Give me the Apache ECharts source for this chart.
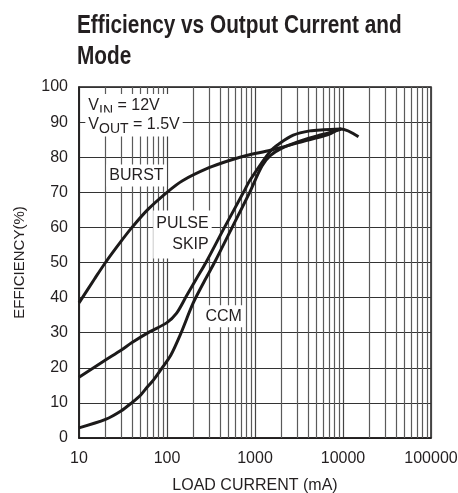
<!DOCTYPE html>
<html>
<head>
<meta charset="utf-8">
<script src="https://cdn.jsdelivr.net/npm/echarts@6/dist/echarts.min.js"></script>
<style>
    html, body { margin: 0; padding: 0; background: #fff; }
    #chart { width: 458px; height: 493px; }
</style>
</head>
<body>
<div id="chart"></div>
<script>
// load current (mA) / efficiency (%)
var burst = [[10, 38.5], [15, 45.3], [20, 50], [30, 56], [40, 60], [60, 65], [100, 70], [150, 73.3],
    [300, 77], [500, 79], [800, 80.5], [1500, 82], [3000, 84], [5000, 85.5], [7000, 86.6], [9500, 88], [15000, 85.8]];
var pulseSkip = [[10, 17.3], [20, 22.2], [30, 25], [40, 27.2], [64, 30.3], [99, 32.8], [128, 35.5], [165, 40.3],
    [215, 45.3], [277, 50], [450, 60], [740, 70], [880, 73.5],
    [1480, 81.6], [1920, 84], [2720, 86.3], [4200, 87.5], [6000, 87.8], [9500, 88]];
var ccm = [[10, 2.9], [20, 5.3], [30, 7.7], [40, 10.1], [50, 12.2], [60, 14.6], [70, 16.5], [88, 20],
    [110, 23.5], [141, 29.3], [198, 38.4], [270, 45], [355, 50.5], [550, 60], [870, 70], [1200, 77.5],
    [1500, 80.5], [2000, 82.5], [3000, 84.3], [5000, 86], [7000, 87], [9500, 88]];
// minor log grid lines
var minorTicks = [20, 30, 40, 50, 60, 70, 80, 90, 200, 300, 400, 500, 600, 700, 800, 900,
    2000, 3000, 4000, 5000, 6000, 7000, 8000, 9000, 20000, 30000, 40000, 50000, 60000, 70000, 80000, 90000];

var font = '"Liberation Sans", Arial, sans-serif';
var ink = '#1c1a1a';
var textColor = '#231f20';

function curve(name, data) {
    return {
        name: name,
        type: 'line',
        data: data,
        smooth: 0.3,
        symbol: 'none',
        z: 4,
        lineStyle: { color: ink, width: 3 }
    };
}

var subStyle = { fontFamily: font, fontSize: 14, color: textColor, padding: [10, 0, 0, 0] };

var myChart = echarts.init(document.getElementById('chart'));

var option = {
    backgroundColor: '#ffffff',
    animation: false,
    graphic: [{
        type: 'text',
        x: 77,
        y: 10,
        scaleX: 0.8,
        style: {
            text: 'Efficiency vs Output Current and\nMode',
            font: 'bold 26px ' + font,
            lineHeight: 31,
            fill: textColor,
            verticalAlign: 'top'
        }
    }],
    grid: {
        left: 79,
        right: 27,
        top: 87,
        bottom: 55,
        outerBoundsMode: 'none',
        show: true,
        borderColor: ink,
        borderWidth: 1.5
    },
    xAxis: {
        type: 'log',
        logBase: 10,
        min: 10,
        max: 100000,
        name: 'LOAD CURRENT (mA)',
        nameLocation: 'middle',
        nameGap: 40,
        nameTextStyle: { fontFamily: font, fontSize: 16, color: textColor },
        axisLine: { lineStyle: { color: ink, width: 1.5 } },
        axisTick: { show: false },
        axisLabel: {
            fontFamily: font,
            fontSize: 16,
            color: textColor,
            margin: 13,
            formatter: function (v) { return String(Math.round(v)); }
        },
        splitLine: { show: true, lineStyle: { color: '#444', width: 1.2 } }
    },
    yAxis: {
        type: 'value',
        min: 0,
        max: 100,
        interval: 10,
        name: 'EFFICIENCY(%)',
        nameLocation: 'middle',
        nameRotate: 90,
        nameGap: 52,
        nameTextStyle: { fontFamily: font, fontSize: 15, color: textColor },
        axisLine: { lineStyle: { color: ink, width: 1.5 } },
        axisTick: { show: false },
        axisLabel: { fontFamily: font, fontSize: 16, color: textColor, margin: 11 },
        splitLine: { show: true, lineStyle: { color: '#333', width: 1.2 } }
    },
    series: [
        {
            type: 'line',
            data: [],
            z: 1,
            markLine: {
                z: 1,
                silent: true,
                symbol: 'none',
                label: { show: false },
                lineStyle: { color: '#5a5a5a', width: 1.2, type: 'solid' },
                data: minorTicks.map(function (v) { return { xAxis: v }; })
            }
        },
        curve('BURST', burst),
        curve('PULSE SKIP', pulseSkip),
        curve('CCM', ccm),
        {
            type: 'line',
            data: [],
            z: 3,
            markPoint: {
                z: 3,
                symbol: 'circle',
                symbolSize: 0,
                silent: true,
                label: {
                    show: true,
                    fontFamily: font,
                    fontSize: 16,
                    color: textColor,
                    backgroundColor: '#fff',
                    padding: [3, 3]
                },
                data: [
                    { coord: [45, 74.8], label: { formatter: 'BURST' } },
                    { coord: [322, 58], label: { formatter: 'PULSE\nSKIP', align: 'right', lineHeight: 21 } },
                    { coord: [440, 34.7], label: { formatter: 'CCM' } },
                    {
                        coord: [11.8, 94.6],
                        label: {
                            align: 'left',
                            formatter: 'V{s|IN} = 12V',
                            padding: [0, 10, 0, 3],
                            rich: { s: subStyle }
                        }
                    },
                    {
                        coord: [11.8, 89.3],
                        label: {
                            align: 'left',
                            formatter: 'V{s|OUT} = 1.5V',
                            padding: [0, 3, 0, 3],
                            rich: { s: subStyle }
                        }
                    }
                ]
            }
        }
    ]
};

myChart.setOption(option);
window.addEventListener('resize', function () {
    myChart.resize();
});
</script>
</body>
</html>
